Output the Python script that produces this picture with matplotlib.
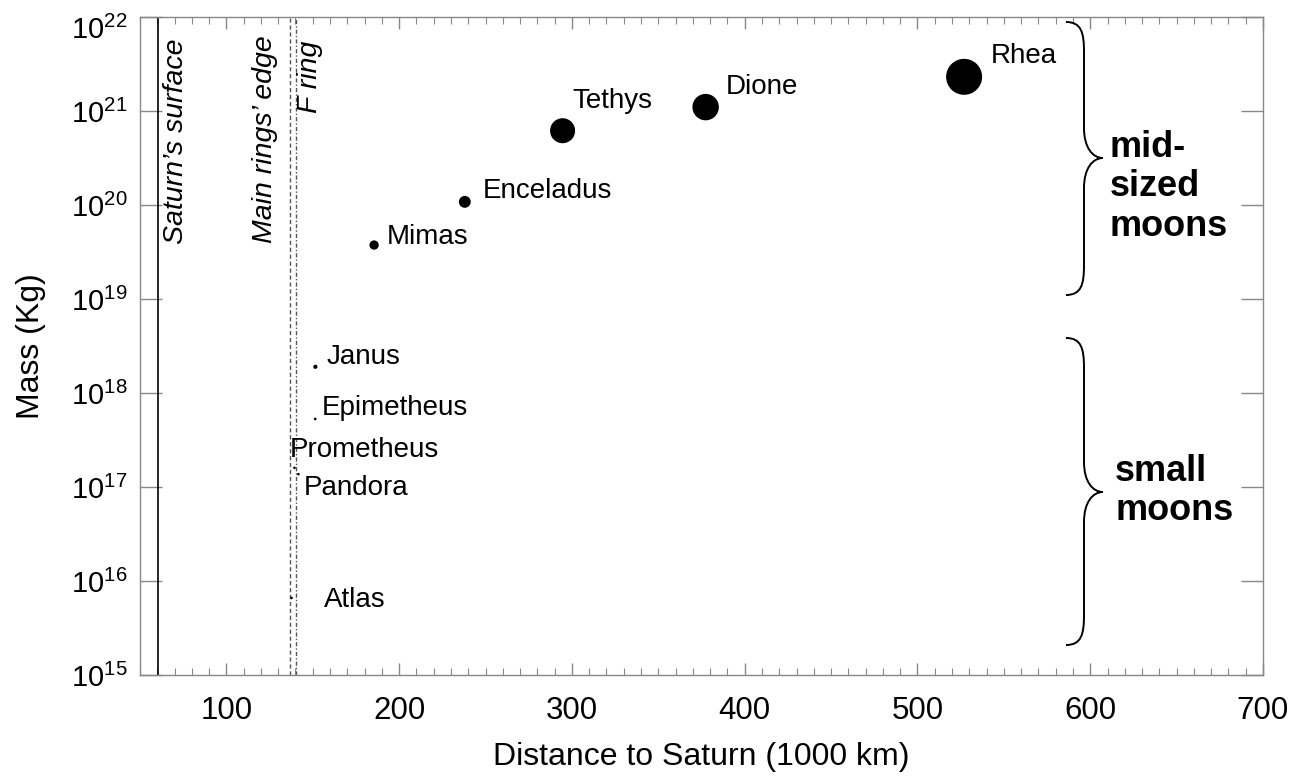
import numpy as np
import matplotlib
matplotlib.use("Agg")
import matplotlib.pyplot as plt
from matplotlib.path import Path
from matplotlib.patches import PathPatch
from matplotlib.ticker import FixedLocator, MultipleLocator, NullLocator, FuncFormatter
import matplotlib.transforms as mtransforms

plt.rcParams['font.family'] = ['Liberation Sans', 'DejaVu Sans']
plt.rcParams['mathtext.fontset'] = 'custom'
plt.rcParams['mathtext.rm'] = 'Liberation Sans'
plt.rcParams['mathtext.it'] = 'Liberation Sans:italic'
plt.rcParams['mathtext.bf'] = 'Liberation Sans:bold'

# Saturnian moons: orbital distance (1000 km), mass (kg), mean radius (km)
moons = ["Mimas", "Enceladus", "Tethys", "Dione", "Rhea",
         "Janus", "Epimetheus", "Prometheus", "Pandora", "Atlas"]
distance = [185.5, 238.0, 294.6, 377.4, 527.0, 151.5, 151.4, 139.4, 141.7, 137.7]
mass = [3.75e19, 1.08e20, 6.17e20, 1.10e21, 2.31e21,
        1.9e18, 5.3e17, 1.6e17, 1.37e17, 6.6e15]
radius_km = [198, 252, 531, 561, 764, 89, 58, 43, 40, 15]

# Reference radii (1000 km)
saturn_surface = 60.27
main_rings_edge = 136.77
f_ring = 140.18

x_ticks = [100, 200, 300, 400, 500, 600, 700]
y_exponents = [15, 16, 17, 18, 19, 20, 21, 22]

# label offsets in pixels (dx right, dy up)
label_offsets = {
    "Mimas": (13, 8), "Enceladus": (18, 11), "Tethys": (10, 30),
    "Dione": (20, 20), "Rhea": (27, 21), "Janus": (11, 10),
    "Epimetheus": (7, 11), "Prometheus": (-5, 18), "Pandora": (5, -14),
    "Atlas": (32, -2),
}

W, H, DPI = 1305, 778, 100
fig = plt.figure(figsize=(W / DPI, H / DPI), dpi=DPI)
ax_l, ax_r, ax_t, ax_b = 140, 1263, 17, 675
ax = fig.add_axes([ax_l / W, 1 - ax_b / H, (ax_r - ax_l) / W, (ax_b - ax_t) / H])

px2pt = 72.0 / DPI

# marker diameters scale with moon radius
diam_px = np.maximum(np.array(radius_km) * 36.0 / 764.0, 2.6)
sizes = (diam_px * px2pt) ** 2
ax.scatter(distance, mass, s=sizes, c="black", edgecolors="none", zorder=3)

for name, x, y in zip(moons, distance, mass):
    dx, dy = label_offsets[name]
    ax.annotate(name, (x, y), xytext=(dx * px2pt, dy * px2pt),
                textcoords="offset points", ha="left", va="center",
                fontsize=20)

ax.set_yscale("log")
ax.set_xlim(50, 700)
ax.set_ylim(1e15, 1e22)

# reference lines
ax.axvline(saturn_surface, color="black", lw=1.2, zorder=2)
ax.axvline(main_rings_edge, color="#555555", lw=1.0, ls=(0, (3, 2)), zorder=2)
ax.axvline(f_ring, color="#555555", lw=1.0, ls=(0, (3, 1.5, 1, 1.5)), zorder=2)

trans = mtransforms.blended_transform_factory(ax.transData, ax.transAxes)
ax.text(70.8, 0.968, "Saturn\u2019s surface", rotation=90, ha="center", va="top",
        style="italic", fontsize=20.5, transform=trans)
ax.text(122.3, 0.972, "Main rings\u2019 edge", rotation=90, ha="center", va="top",
        style="italic", fontsize=20.5, transform=trans)
ax.text(148.4, 0.964, "F ring", rotation=90, ha="center", va="top",
        style="italic", fontsize=20.5, transform=trans)

# axes styling
for sp in ax.spines.values():
    sp.set_color("#888888")
    sp.set_linewidth(1.0)

ax.xaxis.set_major_locator(FixedLocator(x_ticks))
ax.xaxis.set_minor_locator(MultipleLocator(10))
ax.yaxis.set_major_locator(FixedLocator([10.0 ** e for e in y_exponents]))
ax.yaxis.set_minor_locator(NullLocator())
ax.yaxis.set_major_formatter(
    FuncFormatter(lambda v, pos: r"$\mathregular{10^{%d}}$" % round(np.log10(v))))

ax.tick_params(axis="x", which="major", direction="in", length=12 * px2pt,
               width=1, color="#888888", top=True, bottom=True,
               labelsize=22.5, pad=15)
ax.tick_params(axis="x", which="minor", direction="in", length=7 * px2pt,
               width=0.8, color="#888888", top=True, bottom=True)
ax.tick_params(axis="y", which="major", direction="in", length=22 * px2pt,
               width=1, color="#888888", left=True, right=True,
               labelsize=21, pad=9)

ax.set_xlabel("Distance to Saturn (1000 km)", fontsize=23, labelpad=12)
ax.set_ylabel("Mass (Kg)", fontsize=23, labelpad=18)

# nudge the top label down so it sits inside the figure
top_tick = ax.yaxis.get_major_ticks(len(y_exponents))[-1]
top_tick.label1.set_transform(
    top_tick.label1.get_transform()
    + mtransforms.ScaledTranslation(0, -10 / DPI, fig.dpi_scale_trans))


def brace(xl, xm, xr, yt, ym, yb, r):
    """Right-pointing curly brace in figure pixel coordinates (y down)."""
    pts = [
        (xl, yt),
        (xm - 0.15 * (xm - xl), yt), (xm, yt + 0.35 * r), (xm, yt + r),
        (xm, ym - r),
        (xm, ym - 0.35 * r), (xr - 0.55 * (xr - xm), ym), (xr, ym),
        (xr - 0.55 * (xr - xm), ym), (xm, ym + 0.35 * r), (xm, ym + r),
        (xm, yb - r),
        (xm, yb - 0.35 * r), (xm - 0.15 * (xm - xl), yb), (xl, yb),
    ]
    codes = [Path.MOVETO,
             Path.CURVE4, Path.CURVE4, Path.CURVE4,
             Path.LINETO,
             Path.CURVE4, Path.CURVE4, Path.CURVE4,
             Path.CURVE4, Path.CURVE4, Path.CURVE4,
             Path.LINETO,
             Path.CURVE4, Path.CURVE4, Path.CURVE4]
    verts = [(x / W, 1 - y / H) for x, y in pts]
    patch = PathPatch(Path(verts, codes), facecolor="none", edgecolor="black",
                      lw=1.4, transform=fig.transFigure, zorder=4)
    fig.add_artist(patch)


brace(1066, 1084, 1103, 22, 158, 295, 30)
brace(1066, 1084, 1103, 338, 492, 645, 30)

fig.text(1110 / W, 1 - 187 / H, "mid-\nsized\nmoons", ha="left", va="center",
         fontsize=26, fontweight="bold", linespacing=1.18)
fig.text(1115 / W, 1 - 491 / H, "small\nmoons", ha="left", va="center",
         fontsize=26, fontweight="bold", linespacing=1.18)

fig.savefig("out.png", dpi=DPI)
